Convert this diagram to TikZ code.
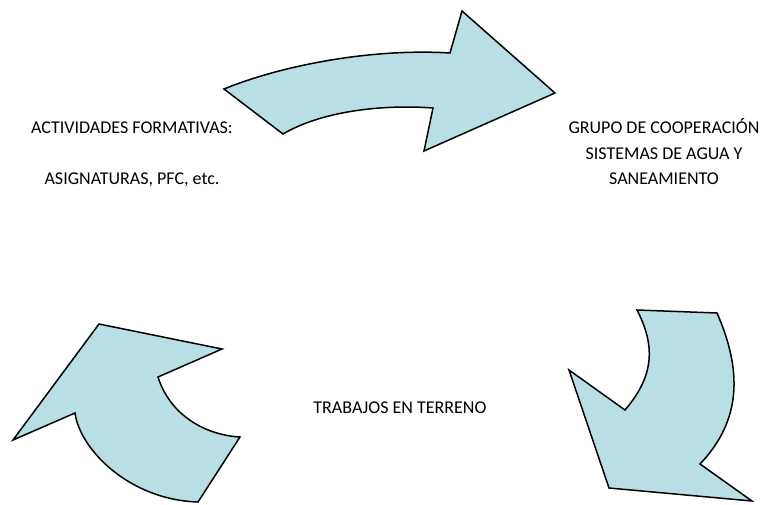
\documentclass[tikz,border=0pt]{standalone}
\usepackage{fontspec}
\setmainfont{Carlito}
\definecolor{arrowfill}{RGB}{184,223,227}
\begin{document}
\begin{tikzpicture}[x=1pt,y=-1pt,
  bigarrow/.style={draw=black,fill=arrowfill,line width=1.5pt,line join=miter},
  lbl/.style={font=\fontsize{18}{25.5}\selectfont,inner sep=0pt,align=center}]
\useasboundingbox (0,0) rectangle (764,504);
% top arrow
\path[bigarrow] (224,89) .. controls (280,66) and (370,48) .. (450,53) -- (462,11) -- (555,93) -- (424,151) -- (433,108) .. controls (380,104) and (320,112) .. (283,134) -- cycle;
% bottom-right arrow
\path[bigarrow] (637,310) -- (717,313) .. controls (742,370) and (742,420) .. (700,464) -- (752,501) -- (609,488) -- (569,370) -- (625,410) .. controls (655,375) and (655,345) .. (637,310) -- cycle;
% bottom-left arrow
\path[bigarrow] (99,324) -- (222,349) -- (158,377) .. controls (170,415) and (205,435) .. (240,437) -- (198,502) .. controls (130,500) and (80,450) .. (75,413) -- (13,440) -- cycle;
% texts
\node[lbl] (act) at (132,128) {ACTIVIDADES FORMATIVAS:};
\node[lbl] (asig) at (132,180) {ASIGNATURAS, PFC, etc.};
\node[lbl] (grupo) at (664,152) {GRUPO DE COOPERACIÓN\\SISTEMAS DE AGUA Y\\SANEAMIENTO};
\node[lbl] (trab) at (400,408) {TRABAJOS EN TERRENO};
\end{tikzpicture}
\end{document}
